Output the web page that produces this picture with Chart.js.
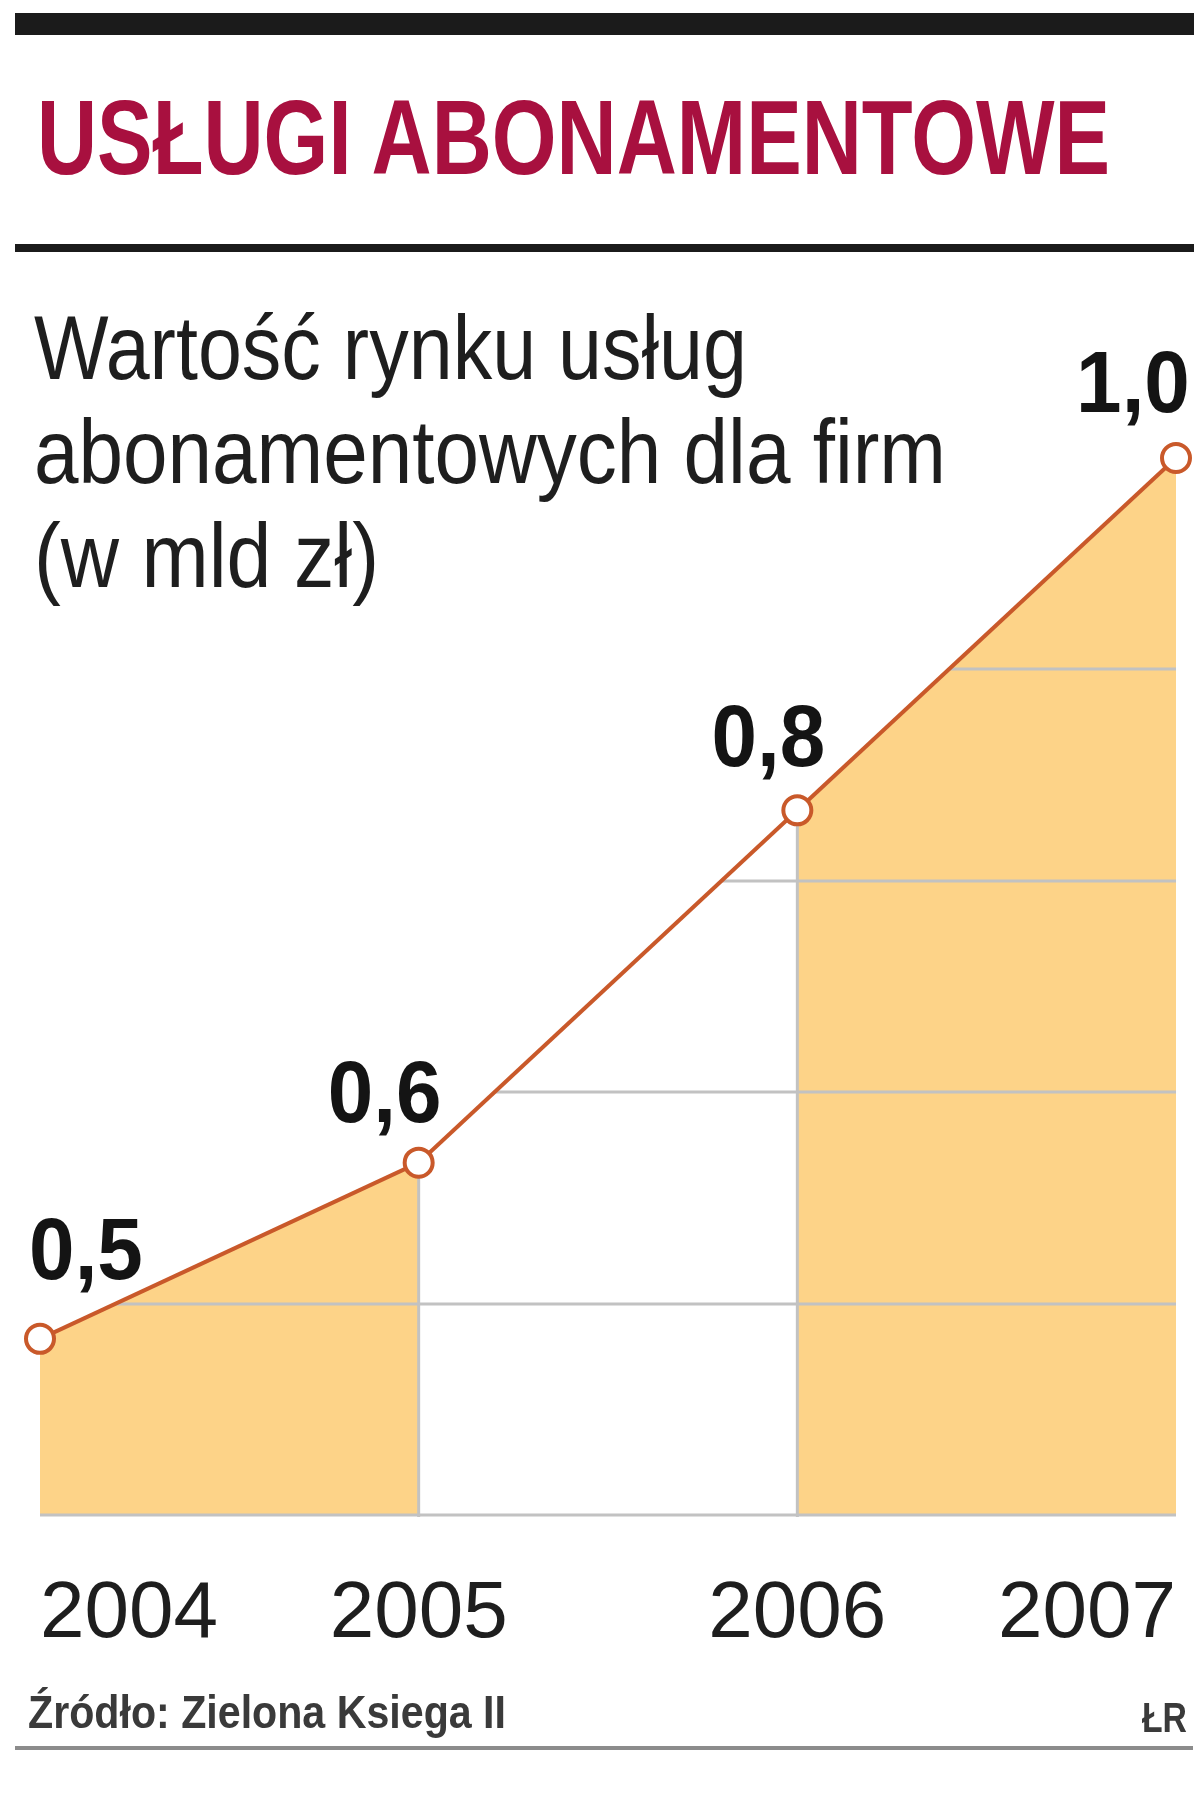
<!DOCTYPE html>
<html>
<head>
<meta charset="utf-8">
<script src="https://cdn.jsdelivr.net/npm/chart.js@4/dist/chart.umd.min.js"></script>
<style>
html,body{margin:0;padding:0;background:#fff;}
#wrap{position:relative;width:1200px;height:1812px;overflow:hidden;background:#fff;}
#chart{position:absolute;left:0;top:0;}
.txt{position:absolute;white-space:nowrap;line-height:1;transform-origin:0 0;font-family:"Liberation Sans",Arial,sans-serif;z-index:2;}
.rule{position:absolute;z-index:2;}
</style>
</head>
<body>
<div id="wrap">
  <canvas id="chart" width="1200" height="1812"></canvas>
  <div class="rule" style="left:15px;top:13px;width:1179px;height:22px;background:#1b1b1b;"></div>
  <div class="txt" data-w="1073" style="left:37px;top:84px;font-size:106px;font-weight:bold;color:#a8103f;">USŁUGI ABONAMENTOWE</div>
  <div class="rule" style="left:15px;top:244px;width:1179px;height:8px;background:#1b1b1b;"></div>
  <div class="txt" data-w="713" style="left:34px;top:303px;font-size:90px;color:#1e1e1e;">Wartość rynku usług</div>
  <div class="txt" data-w="912" style="left:34px;top:407px;font-size:90px;color:#1e1e1e;">abonamentowych dla firm</div>
  <div class="txt" data-w="345" style="left:34px;top:511px;font-size:90px;color:#1e1e1e;">(w mld zł)</div>
  <div class="txt" data-w="478" style="left:28px;top:1689px;font-size:46px;font-weight:bold;color:#3a3a3a;">Źródło: Zielona Ksiega II</div>
  <div class="txt" data-w="45" style="left:1142px;top:1697px;font-size:42px;font-weight:bold;color:#3a3a3a;">ŁR</div>
  <div class="rule" style="left:15px;top:1746px;width:1178px;height:4px;background:#8c8c8c;"></div>
</div>
<script>
// ---- data ----
const years = ['2004', '2005', '2006', '2007'];
const values = [0.5, 0.6, 0.8, 1.0];
const valueLabels = ['0,5', '0,6', '0,8', '1,0'];
const gridValues = [0.4, 0.52, 0.64, 0.76, 0.88, 1.0];

// ---- styles ----
const FILL = '#fdd388';
const LINE = '#c9592a';
const GRID = '#c2c2c2';
const labelDX = [46, -34, -29, -43];
const labelDY = [-60, -41, -44, -46];

// fit html text widths
document.querySelectorAll('.txt[data-w]').forEach(el => {
  const w = el.getBoundingClientRect().width;
  const t = parseFloat(el.dataset.w);
  el.style.transform = 'scaleX(' + (t / w) + ')';
});

const gridUnderLine = {
  id: 'gridUnderLine',
  beforeDatasetDraw(chart, args) {
    if (args.index !== 0) return;
    const ctx = chart.ctx;
    const pts = chart.getDatasetMeta(0).data;
    const y = chart.scales.y, x = chart.scales.x;
    const bottom = y.getPixelForValue(gridValues[0]);
    const last = pts[pts.length - 1];
    ctx.save();
    ctx.beginPath();
    ctx.moveTo(pts[0].x, bottom + 3);
    pts.forEach(p => ctx.lineTo(p.x, p.y));
    ctx.lineTo(last.x, bottom + 3);
    ctx.closePath();
    ctx.clip();
    ctx.strokeStyle = GRID;
    ctx.lineWidth = 3;
    gridValues.forEach(v => {
      const py = Math.round(y.getPixelForValue(v));
      ctx.beginPath();
      ctx.moveTo(pts[0].x, py);
      ctx.lineTo(last.x, py);
      ctx.stroke();
    });
    for (let i = 1; i < years.length - 1; i++) {
      const px = x.getPixelForValue(i);
      ctx.beginPath();
      ctx.moveTo(px, bottom + 2);
      ctx.lineTo(px, y.getPixelForValue(values[i]));
      ctx.stroke();
    }
    ctx.restore();
  }
};

const valueLabelPlugin = {
  id: 'valueLabelPlugin',
  afterDatasetsDraw(chart) {
    const ctx = chart.ctx;
    const pts = chart.getDatasetMeta(0).data;
    ctx.save();
    ctx.fillStyle = '#141414';
    ctx.font = 'bold 88px "Liberation Sans", Arial, sans-serif';
    ctx.textAlign = 'center';
    ctx.textBaseline = 'alphabetic';
    pts.forEach((p, i) => {
      ctx.save();
      ctx.translate(p.x + labelDX[i], p.y + labelDY[i]);
      ctx.scale(0.93, 1);
      ctx.fillText(valueLabels[i], 0, 0);
      ctx.restore();
    });
    ctx.restore();
  }
};

new Chart(document.getElementById('chart'), {
  type: 'line',
  data: {
    labels: years,
    datasets: [{
      data: values,
      borderColor: LINE,
      borderWidth: 4,
      tension: 0,
      fill: 'start',
      backgroundColor: FILL,
      segment: {
        backgroundColor: c => (c.p0DataIndex === 1 ? 'rgba(255,255,255,0)' : FILL)
      },
      pointRadius: 14,
      pointBorderWidth: 4,
      pointBackgroundColor: '#ffffff',
      pointBorderColor: LINE,
      clip: false
    }]
  },
  options: {
    responsive: false,
    animation: false,
    devicePixelRatio: 1,
    layout: { padding: { left: 40, right: 24, top: 458, bottom: 149 } },
    plugins: { legend: { display: false }, tooltip: { enabled: false } },
    scales: {
      x: {
        offset: false,
        grid: { display: false, drawTicks: true, tickLength: 52 },
        border: { display: false },
        ticks: {
          align: 'inner',
          padding: 0,
          autoSkip: false,
          maxRotation: 0,
          color: '#1e1e1e',
          font: { family: '"Liberation Sans", Arial, sans-serif', size: 80 }
        }
      },
      y: {
        display: false,
        min: 0.4,
        max: 1.0,
        afterBuildTicks: s => { s.ticks = gridValues.map(v => ({ value: v })); }
      }
    }
  },
  plugins: [gridUnderLine, valueLabelPlugin]
});
</script>
</body>
</html>
